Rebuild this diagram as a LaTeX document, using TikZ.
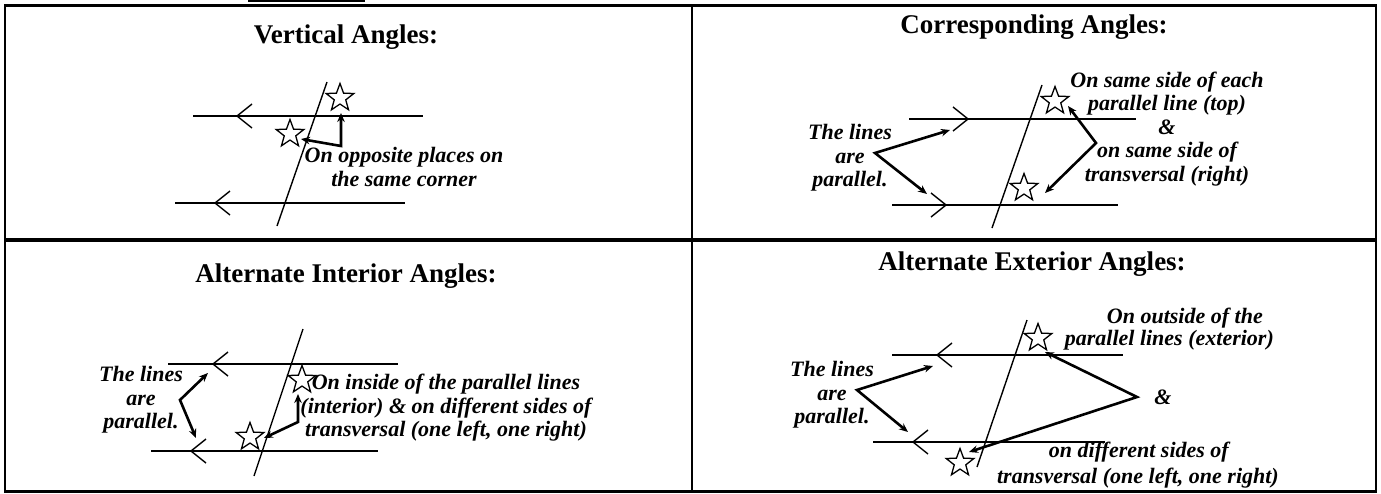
\documentclass[tikz,border=0pt]{standalone}
\usepackage{fontspec}
\setmainfont{Liberation Serif}
\usetikzlibrary{shapes.geometric,arrows.meta,calc}
\begin{document}
\begin{tikzpicture}[x=1pt,y=-1pt,
  frame/.style={line width=2.4pt},
  pline/.style={line width=1.4pt},
  chev/.style={line width=1.4pt, line join=miter},
  dbl/.style={line width=2.6pt, line join=miter, {Stealth[length=9pt,width=7.5pt]}-{Stealth[length=9pt,width=7.5pt]}},
  starnode/.style={star, star points=5, star point ratio=2.4, draw, line width=1.3pt, minimum size=29pt, inner sep=0pt},
  title/.style={font=\bfseries\fontsize{27}{32}\selectfont, anchor=base, inner sep=0pt},
  note/.style={font=\bfseries\itshape\fontsize{22}{23.5}\selectfont, align=center, inner sep=0pt}
]
\useasboundingbox (0,0) rectangle (1381,493);
% table
\draw[frame] (5,5.5) rectangle (1376,491.5);
\draw[frame] (692,5.5) -- (692,491.5);
\draw[line width=3.4pt] (5,240) -- (1376,240);
\draw[line width=1.5pt] (248,0.8) -- (365,0.8);

% ---------- Panel 1: Vertical ----------
\node[title] (t1) at (346,43) {Vertical Angles:};
\coordinate (p1a) at (193,116); \coordinate (p1b) at (423,116);
\coordinate (p1c) at (175,203); \coordinate (p1d) at (405,203);
\coordinate (tr1a) at (327,82); \coordinate (tr1b) at (277,226);
\draw[pline] (p1a) -- (p1b);
\draw[pline] (p1c) -- (p1d);
\draw[pline] (tr1a) -- (tr1b);
\coordinate (ch1) at (237,116); \coordinate (ch2) at (215,203);
\draw[chev] (ch1) ++(15,-12) -- (ch1) -- ++(15,12);
\draw[chev] (ch2) ++(15,-12) -- (ch2) -- ++(15,12);
\node[starnode] (s1a) at (340,98) {};
\node[starnode] (s1b) at (290,134) {};
\coordinate (k1) at (341,146);
\coordinate (a1) at (301,139);
\coordinate (b1) at (341,113);
\draw[dbl] (a1) -- (k1) -- (b1);
\node[note] (n1) at (404,167) {On opposite places on\\the same corner};

% ---------- Panel 2: Corresponding ----------
\node[title] (t2) at (1034,33) {Corresponding Angles:};
\coordinate (p2a) at (909,119); \coordinate (p2b) at (1136,119);
\coordinate (p2c) at (892,205); \coordinate (p2d) at (1118,205);
\coordinate (tr2a) at (1042,85); \coordinate (tr2b) at (992,228);
\draw[pline] (p2a) -- (p2b);
\draw[pline] (p2c) -- (p2d);
\draw[pline] (tr2a) -- (tr2b);
\coordinate (ch3) at (968,119); \coordinate (ch4) at (946,205);
\draw[chev] (ch3) ++(-15,-12) -- (ch3) -- ++(-15,12);
\draw[chev] (ch4) ++(-15,-12) -- (ch4) -- ++(-15,12);
\node[starnode] (s2a) at (1055,101) {};
\node[starnode] (s2b) at (1024,188) {};
\node[note] (n2) at (850,158) {The lines\\are\\parallel.};
\coordinate (k2) at (875,153);
\coordinate (a2) at (950,130); \coordinate (b2) at (927,194);
\draw[dbl] (a2) -- (k2) -- (b2);
\node[note] (n3) at (1167,129) {On same side of each\\parallel line (top)\\\&\\on same side of\\transversal (right)};
\coordinate (k3) at (1096,143);
\coordinate (a3) at (1068,106); \coordinate (b3) at (1045,193);
\draw[dbl] (a3) -- (k3) -- (b3);

% ---------- Panel 3: Alternate Interior ----------
\node[title] (t3) at (346,282) {Alternate Interior Angles:};
\coordinate (p3a) at (168,364); \coordinate (p3b) at (398,364);
\coordinate (p3c) at (151,451); \coordinate (p3d) at (378,451);
\coordinate (tr3a) at (303,329); \coordinate (tr3b) at (254,476);
\draw[pline] (p3a) -- (p3b);
\draw[pline] (p3c) -- (p3d);
\draw[pline] (tr3a) -- (tr3b);
\coordinate (ch5) at (213,364); \coordinate (ch6) at (191,451);
\draw[chev] (ch5) ++(15,-12) -- (ch5) -- ++(15,12);
\draw[chev] (ch6) ++(15,-12) -- (ch6) -- ++(15,12);
\node[starnode] (s3a) at (302,380) {};
\node[starnode] (s3b) at (250,437) {};
\node[note] (n4) at (141,400) {The lines\\are\\parallel.};
\coordinate (k4) at (180,400);
\coordinate (a4) at (208,373); \coordinate (b4) at (196,438);
\draw[dbl] (a4) -- (k4) -- (b4);
\node[note] (n5) at (446,408) {On inside of the parallel lines\\(interior) \& on different sides of\\transversal (one left, one right)};
\coordinate (k5) at (298,422);
\coordinate (a5) at (264,438); \coordinate (b5) at (298,394);
\draw[dbl] (a5) -- (k5) -- (b5);

% ---------- Panel 4: Alternate Exterior ----------
\node[title] (t4) at (1032,270) {Alternate Exterior Angles:};
\coordinate (p4a) at (892,355); \coordinate (p4b) at (1123,355);
\coordinate (p4c) at (873,442); \coordinate (p4d) at (1105,442);
\coordinate (tr4a) at (1027,320); \coordinate (tr4b) at (977,467);
\draw[pline] (p4a) -- (p4b);
\draw[pline] (p4c) -- (p4d);
\draw[pline] (tr4a) -- (tr4b);
\coordinate (ch7) at (937,355); \coordinate (ch8) at (913,442);
\draw[chev] (ch7) ++(15,-12) -- (ch7) -- ++(15,12);
\draw[chev] (ch8) ++(15,-12) -- (ch8) -- ++(15,12);
\node[starnode] (s4a) at (1038,338) {};
\node[starnode] (s4b) at (960,463) {};
\node[note] (n6) at (832,395) {The lines\\are\\parallel.};
\coordinate (k6) at (857,390);
\coordinate (a6) at (933,366); \coordinate (b6) at (908,432);
\draw[dbl] (a6) -- (k6) -- (b6);
\coordinate (k7) at (1137,397);
\coordinate (a7) at (1045,352); \coordinate (b7) at (969,452);
\draw[dbl] (a7) -- (k7) -- (b7);
\node[note, anchor=east] (o1) at (1263,318) {On outside of the};
\node[note, anchor=east] (o2) at (1274,340) {parallel lines (exterior)};
\node[note] (o3) at (1163,397) {\&};
\node[note, anchor=east] (o4) at (1229,452) {on different sides of};
\node[note, anchor=east] (o5) at (1279,478) {transversal (one left, one right)};
\end{tikzpicture}
\end{document}
